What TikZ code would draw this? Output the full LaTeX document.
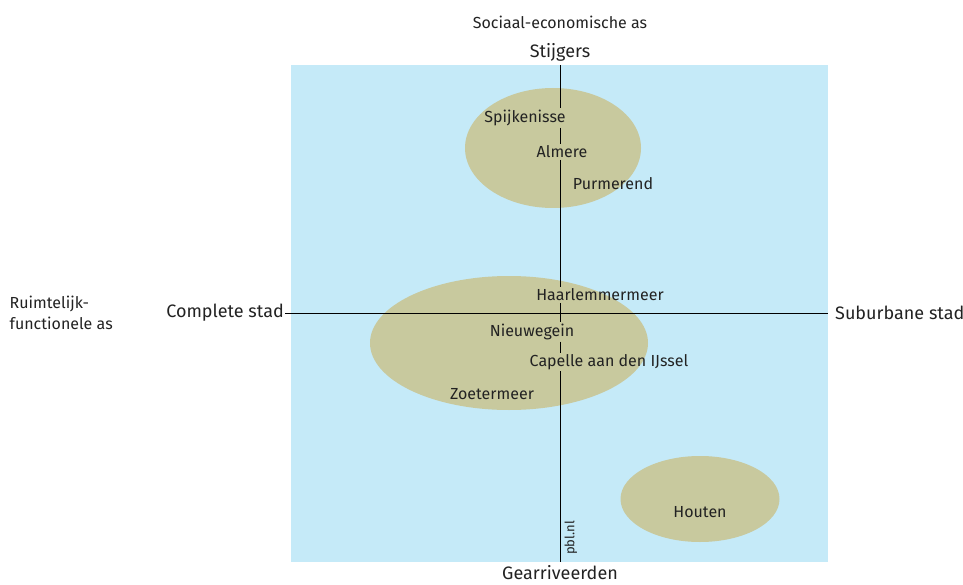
\documentclass[tikz,border=0pt]{standalone}
\usepackage{fontspec}
\setmainfont{Fira Sans}
\usetikzlibrary{positioning,shapes.geometric}
\definecolor{kwadrant}{RGB}{197,234,248}
\definecolor{groep}{RGB}{200,201,158}
\definecolor{tekst}{RGB}{34,34,34}

\begin{document}
\begin{tikzpicture}[x=1pt,y=-1pt,
  text=tekst,
  as/.style={font=\fontsize{18}{21}\selectfont,inner sep=1,yshift=-2},
  stad/.style={font=\fontsize{16}{21}\selectfont,inner sep=1.5,yshift=-2},
  groep node/.style={ellipse,fill=groep,inner sep=0}]
    \useasboundingbox (0,0) rectangle (963,585);
    \fill[kwadrant] (291,65) rectangle (828,562);
    % groepen
    \node[groep node,minimum width=176,minimum height=120](G1) at (553,148){};
    \node[groep node,minimum width=278,minimum height=134](G2) at (509,343){};
    \node[groep node,minimum width=159,minimum height=86](G3) at (700,499){};
    % assen
    \node[stad](titel) at (560,20){Sociaal-economische as};
    \node[as](N) at (560,50){Stijgers};
    \node[as](S) at (560,571){Gearriveerden};
    \node[as,anchor=east](W) at (285,311){Complete stad};
    \node[as,anchor=west](O) at (834,311){Suburbane stad};
    \node[stad,anchor=west,align=left](titel2) at (8,311){Ruimtelijk-\\functionele as};
    \coordinate (top) at (560,65);
    \coordinate (bottom) at (560,562);
    \coordinate (rechts) at (828,313);
    % steden
    \node[stad](Sp) at (525,116){Spijkenisse};
    \node[stad](Al) at (562,150){Almere};
    \node[stad](Pu) at (613,182){Purmerend};
    \node[stad](Ha) at (600,293){Haarlemmermeer};
    \node[stad](Ni) at (532,330){Nieuwegein};
    \node[stad](Ca) at (609,360){Capelle aan den IJssel};
    \node[stad](Zo) at (492,392){Zoetermeer};
    \node[stad](Ho) at (700,510){Houten};
    \node[font=\fontsize{13}{15}\selectfont,rotate=90,inner sep=1](pbl) at (571,538){pbl.nl};
    \draw[line width=1] (W.east |- rechts) -- (rechts);
    \draw[line width=1]
          (top) -- (top |- Sp.north)
          (top |- Sp.south) -- (top |- Al.north)
          (top |- Al.south) -- (top |- Ha.north)
          (top |- Ha.south) -- (top |- Ni.north)
          (top |- Ni.south) -- (top |- Ca.north)
          (top |- Ca.south) -- (bottom);
\end{tikzpicture}
\end{document}
